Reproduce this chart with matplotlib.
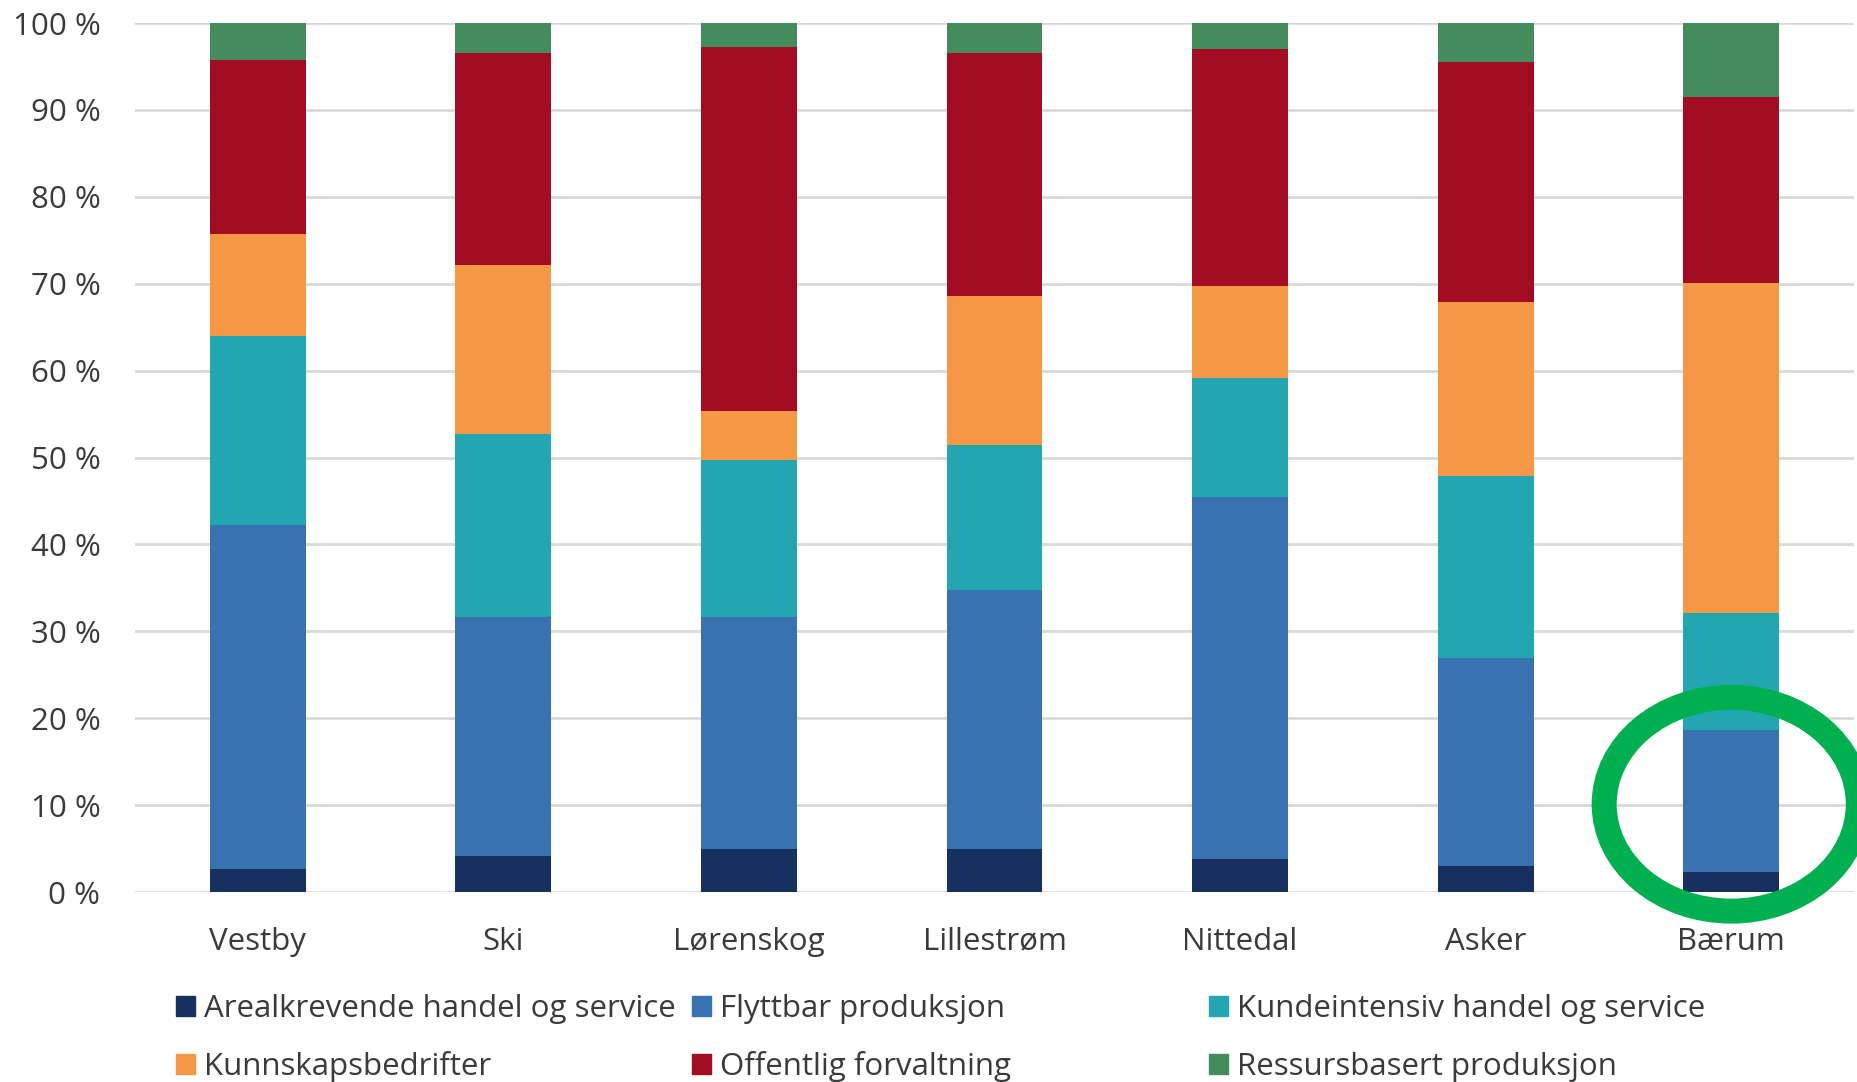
import numpy as np
import matplotlib
matplotlib.use("Agg")
import matplotlib.pyplot as plt
from matplotlib.patches import Ellipse, Patch

plt.rcParams['font.family'] = ['Open Sans', 'DejaVu Sans']

kommuner = ['Vestby', 'Ski', 'Lørenskog', 'Lillestrøm', 'Nittedal', 'Asker', 'Bærum']

# andel sysselsatte per bransjegruppe (prosent), lest av figuren
arealkrevende = [2.6, 4.1, 5.0, 5.0, 3.8, 3.0, 2.3]
flyttbar = [39.6, 27.6, 26.7, 29.7, 41.6, 23.9, 16.3]
kundeintensiv = [21.8, 21.0, 18.0, 16.7, 13.8, 21.0, 13.5]
kunnskap = [11.7, 19.5, 5.6, 17.2, 10.5, 20.0, 38.0]
offentlig = [20.1, 24.3, 42.0, 27.9, 27.3, 27.6, 21.4]
ressurs = [4.2, 3.5, 2.7, 3.5, 3.0, 4.5, 8.5]

serier = [
    ('Arealkrevende handel og service', arealkrevende, '#16305f'),
    ('Flyttbar produksjon', flyttbar, '#3872b0'),
    ('Kundeintensiv handel og service', kundeintensiv, '#23a6b0'),
    ('Kunnskapsbedrifter', kunnskap, '#f59845'),
    ('Offentlig forvaltning', offentlig, '#a30d23'),
    ('Ressursbasert produksjon', ressurs, '#448c5c'),
]

tekstfarge = '#3a3a3a'
fs = 22.5

fig = plt.figure(figsize=(18.57, 10.82), dpi=100)
ax = fig.add_axes([0.0727, 0.1756, 0.9257, 0.8031])

x = np.arange(len(kommuner))
bunn = np.zeros(len(kommuner))
for navn, verdier, farge in serier:
    ax.bar(x, verdier, 0.39, bottom=bunn, color=farge, zorder=3)
    bunn += np.array(verdier)

ax.set_xlim(-0.5, len(kommuner) - 0.5)
ax.set_ylim(0, 100)
ax.set_yticks(np.arange(0, 101, 10))
ax.set_yticklabels(['%d %%' % v for v in range(0, 101, 10)])
ax.set_xticks(x)
ax.set_xticklabels(kommuner)
ax.tick_params(axis='both', length=0, labelsize=fs, colors=tekstfarge)
ax.tick_params(axis='y', pad=25)
ax.tick_params(axis='x', pad=25)
ax.grid(axis='y', color='#d9d9d9', linewidth=2, zorder=0)
for s in ax.spines.values():
    s.set_visible(False)

# grønn ring rundt Bærum
ring = Ellipse((kommuner.index('Bærum'), 10.1), 1.035, 24.6, fill=False,
               edgecolor='#00b050', linewidth=18, zorder=5, clip_on=False)
ax.add_patch(ring)

# legende i tre like brede kolonner
kolonner = [(0, 3), (1, 4), (2, 5)]
xpos = [176, 692, 1209]
for (a, b), xp in zip(kolonner, xpos):
    handles = [Patch(color=serier[i][2]) for i in (a, b)]
    labels = [serier[i][0] for i in (a, b)]
    leg = fig.legend(handles, labels, loc='center left',
                     bbox_to_anchor=(xp / 1857, 1 - 1038 / 1082),
                     frameon=False, fontsize=fs, ncol=1,
                     handlelength=0.6, handleheight=0.6, handletextpad=0.3,
                     labelspacing=0.89, borderpad=0, borderaxespad=0)
    for t in leg.get_texts():
        t.set_color(tekstfarge)

fig.savefig('out.png', dpi=100)
